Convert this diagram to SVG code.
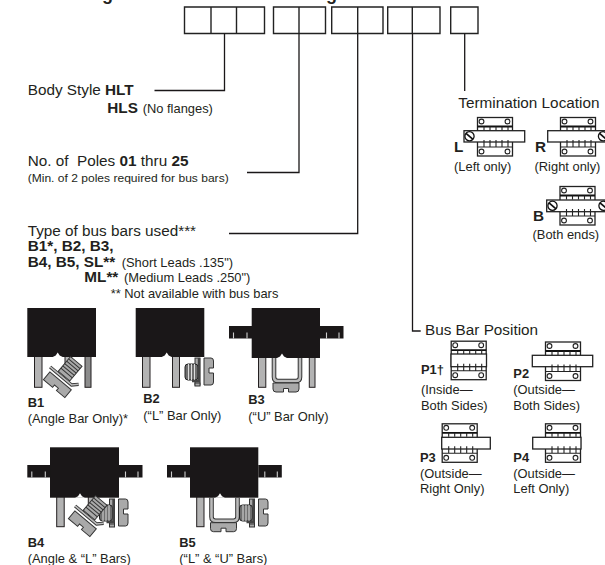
<svg xmlns="http://www.w3.org/2000/svg" width="605" height="565" viewBox="0 0 605 565">
<style>
text{font-family:"Liberation Sans",Arial,sans-serif;fill:#231f20}
.h{font-size:15.3px}.m{font-size:12.9px}.t{font-size:11.5px}
.b{font-weight:bold}
.box{fill:#fff;stroke:#222;stroke-width:1.4}
.c{fill:none;stroke:#1a1718;stroke-width:1.3}
.ln{fill:none;stroke:#222;stroke-width:1.1}
.bar{fill:#fff;stroke:#222;stroke-width:1.3}
.blk{fill:#1a1718}
.pin{fill:#b3b3b3;stroke:#231f20;stroke-width:1}
.pind{fill:#8c8c8c;stroke:#231f20;stroke-width:1}
.mid{fill:#a9a9a9;stroke:#333;stroke-width:1}
.dk{fill:#6e6e6e;stroke:#222;stroke-width:1}
</style>
<defs>
<g id="term">
<rect class="bar" x="0.5" y="0.5" width="35" height="38.5"/>
<circle class="ln" cx="4.5" cy="4.5" r="2.4"/><circle class="ln" cx="30.5" cy="4.5" r="2.4"/>
<circle class="ln" cx="4.5" cy="34.5" r="2.4"/><circle class="ln" cx="30.5" cy="34.5" r="2.4"/>
<path d="M0.5 9.5H35.5" stroke="#111" stroke-width="1.8" fill="none"/>
<path class="ln" d="M7 9.5V13.5M13 9.5V13.5M19 9.5V13.5M25 9.5V13.5M31 9.5V13.5"/>
</g>
<path id="ticks" d="M0.5 30H35.5M7 23V30M13 23V30M19 23V30M25 23V30M31 23V30" fill="none" stroke="#222" stroke-width="1.1"/>
<g id="screw"><circle r="4.6" fill="#fff" stroke="#111" stroke-width="1.3"/><path d="M-3.5 -3L3.5 3" stroke="#111" stroke-width="1.7"/></g>
<path id="notch" d="M-5 0L-2 -1.5L0 -4.5L2 -1.5L5 0Z" fill="#fff"/>
<g id="tabL"><rect class="blk" width="23" height="12.5"/><path d="M4.5 6.5V12.5M18 6.5V12.5" stroke="#ccc" stroke-width="1.1"/></g>
<g id="tabR"><rect class="blk" width="23.5" height="12.5"/><path d="M6.5 6.5V12.5M19 6.5V12.5" stroke="#ccc" stroke-width="1.1"/></g>
<g id="angle">
<path class="mid" d="M-14 -4H14V6H3V3H-2V6H-14Z"/>
<path d="M-17 -8H11L16 -13" fill="none" stroke="#333" stroke-width="3.4"/>
<path d="M-17 -8H11L16 -13" fill="none" stroke="#bbb" stroke-width="1.6"/>
<rect class="mid" x="-8" y="-29" width="15" height="19"/>
<path d="M-8 -26H7M-8 -23H7M-8 -20H7M-8 -17H7M-8 -14H7" stroke="#333" stroke-width="1"/>
</g>
<g id="lclip">
<rect x="10" y="0" width="5" height="27" class="mid"/>
<rect class="dk" x="0" y="6" width="13" height="16" rx="3"/>
<path d="M3.5 6V22M6.5 6V22M9.5 6V22" stroke="#ddd" stroke-width="1"/>
<path class="mid" d="M19 0H26Q28.5 0 28.5 3V10H24V15H28.5V24Q28.5 27 26 27H19Z"/>
<path d="M14 0V23H7" fill="none" stroke="#444" stroke-width="2.4"/>
<rect class="mid" x="10" y="25" width="5" height="3"/>
</g>
<g id="uclip">
<path d="M3 0V19Q3 23 7 23H25Q29 23 29 19V0" fill="none" stroke="#333" stroke-width="4.6"/>
<path d="M3 0V19Q3 23 7 23H25Q29 23 29 19V0" fill="none" stroke="#bbb" stroke-width="2.6"/>
<path class="mid" d="M2 25H28V31Q28 34 25 34H17.5V30.5H12.5V34H5Q2 34 2 31Z"/>
</g>
</defs>

<g id="heading-cut"><text class="b" x="102" y="-0.5" font-size="18">g</text><text class="b" x="326" y="-0.5" font-size="18">g</text></g>

<g id="code-boxes">
<path class="box" d="M184.500 7H264.500V33.500H184.500ZM211 7V33.500M236.500 7V33.500"/>
<path class="box" d="M273.500 7H325.500V33.500H273.500ZM299 7V33.500"/>
<path class="box" d="M331.700 7H383V33.500H331.700ZM357.700 7V33.500"/>
<path class="box" d="M387.700 7H440V33.500H387.700ZM412.300 7V33.500"/>
<path class="box" d="M450.700 7H478V33.500H450.700Z"/>
</g>

<g id="connectors">
<path class="c" d="M224.500 33.500V90.500H154.500"/>
<path class="c" d="M299 33.500V172.500H247"/>
<path class="c" d="M357.700 33.500V233.500H229"/>
<path class="c" d="M412.500 33.500V331H420.700"/>
<path class="c" d="M464.700 33.500V91"/>
</g>

<g id="body-style"><text class="h" x="27.7" y="95">Body Style <tspan class="b">HLT</tspan></text>
<text class="h b" x="107.3" y="112.7">HLS</text><text class="m" x="142.7" y="112.7">(No flanges)</text></g>

<g id="poles"><text class="h" x="27.7" y="166" xml:space="preserve">No. of  Poles <tspan class="b">01</tspan> thru <tspan class="b">25</tspan></text>
<text class="t" x="27.7" y="182" textLength="201" lengthAdjust="spacingAndGlyphs">(Min. of 2 poles required for bus bars)</text></g>

<g id="bus-types"><text class="h" x="27.7" y="235.7">Type of bus bars used***</text>
<text class="h b" x="27.7" y="251">B1*, B2, B3,</text>
<text class="h b" x="27.7" y="266.7">B4, B5, SL**</text>
<text class="m" x="121.7" y="266.7">(Short Leads .135")</text>
<text class="h b" x="84.3" y="281.7">ML**</text>
<text class="m" x="124" y="281.7">(Medium Leads .250")</text>
<text class="m" x="110.7" y="298.3">** Not available with bus bars</text></g>

<g id="termination"><text class="h" x="458.3" y="108">Termination Location</text></g>
<g id="term-L"><use href="#term" x="477" y="117"/><rect class="bar" x="464" y="130.7" width="60.7" height="11.3"/><use href="#ticks" x="477" y="117"/><use href="#screw" x="469.5" y="136.3"/>
<text class="h b" x="454" y="151.7">L</text><text class="m" x="454" y="170.7">(Left only)</text></g>
<g id="term-R"><use href="#term" x="560" y="117"/><rect class="bar" x="547.7" y="130.7" width="60" height="11.3"/><use href="#ticks" x="560" y="117"/><use href="#screw" x="603" y="136.3"/>
<text class="h b" x="535" y="151.7">R</text><text class="m" x="534.5" y="170.7">(Right only)</text></g>
<g id="term-B"><use href="#term" x="559.5" y="186"/><rect class="bar" x="546.7" y="200" width="61" height="11.7"/><use href="#ticks" x="559.5" y="186"/><use href="#screw" x="552.5" y="205.8"/><use href="#screw" x="603.5" y="205.8"/>
<text class="h b" x="533" y="220.7">B</text><text class="m" x="532.5" y="239">(Both ends)</text></g>

<g id="position"><text class="h" x="425" y="335.3">Bus Bar Position</text></g>
<g id="P1"><use href="#term" x="450.7" y="340.7"/><rect class="bar" x="451" y="354" width="35.5" height="12.7"/><use href="#ticks" x="450.7" y="340.7"/>
<text class="m b" x="421" y="374">P1†</text><text class="m" x="421" y="394">(Inside—</text><text class="m" x="421" y="409.5">Both Sides)</text></g>
<g id="P2"><use href="#term" x="545" y="341.5"/><rect class="bar" x="532.3" y="355.3" width="60.4" height="11.4"/><use href="#ticks" x="545" y="341.5"/>
<text class="m b" x="513.3" y="378.3">P2</text><text class="m" x="513.3" y="394">(Outside—</text><text class="m" x="513.3" y="409.5">Both Sides)</text></g>
<g id="P3"><use href="#term" x="441.7" y="423.3"/><rect class="bar" x="441.7" y="437.3" width="48.6" height="11.7"/><use href="#ticks" x="441.7" y="423.3"/>
<text class="m b" x="420" y="461.7">P3</text><text class="m" x="420" y="478.3">(Outside—</text><text class="m" x="420" y="493.3">Right Only)</text></g>
<g id="P4"><use href="#term" x="545" y="423.3"/><rect class="bar" x="532.7" y="437.3" width="48.3" height="11.7"/><use href="#ticks" x="545" y="423.3"/>
<text class="m b" x="513.3" y="461.7">P4</text><text class="m" x="513.3" y="478.3">(Outside—</text><text class="m" x="513.3" y="493.3">Left Only)</text></g>

<g id="B1">
<rect class="pin" x="34.5" y="355" width="7.5" height="32.3"/><rect class="pin" x="65" y="355" width="6.7" height="20"/><rect class="pind" x="85" y="355" width="6" height="32.3"/>
<rect class="blk" x="27.3" y="308" width="68.7" height="49"/><use href="#notch" x="57.7" y="357"/>
<use href="#angle" transform="translate(58 384) rotate(40)"/>
<text class="m b" x="27.7" y="406.7">B1</text><text class="m" x="27.7" y="422.7">(Angle Bar Only)*</text></g>

<g id="B2">
<rect class="pin" x="142.5" y="355" width="7.5" height="32.3"/><rect class="pin" x="172.5" y="355" width="7" height="32.3"/>
<use href="#lclip" x="185" y="358"/>
<rect class="blk" x="135.7" y="308" width="68.6" height="49"/><use href="#notch" x="166.7" y="357"/>
<text class="m b" x="143.3" y="403.3">B2</text><text class="m" x="143.3" y="420">(“L” Bar Only)</text></g>

<g id="B3">
<rect class="pin" x="258.5" y="355" width="7.3" height="32.3"/><rect class="pin" x="309.3" y="355" width="5.7" height="32.3"/>
<use href="#uclip" x="271" y="358"/>
<rect class="blk" x="251.7" y="308" width="68.3" height="50"/><use href="#notch" x="282" y="358"/>
<use href="#tabL" x="229" y="326"/><use href="#tabR" x="320" y="326"/>
<text class="m b" x="248.3" y="404">B3</text><text class="m" x="248.3" y="420.7">(“U” Bar Only)</text></g>

<g id="B4">
<rect class="pin" x="56.7" y="495" width="7.5" height="31.7"/><rect class="pin" x="88.3" y="495" width="7.3" height="20"/>
<use href="#lclip" x="99.5" y="499"/>
<rect class="blk" x="50" y="447.3" width="69" height="50.4"/><use href="#notch" x="80" y="497.7"/>
<use href="#tabL" x="27.3" y="465"/><use href="#tabR" x="119" y="465"/>
<use href="#angle" transform="translate(83 523) rotate(40)"/>
<text class="m b" x="27.7" y="547.3">B4</text><text class="m" x="27.7" y="562.7">(Angle &amp; “L” Bars)</text></g>

<g id="B5">
<rect class="pin" x="196.7" y="495" width="7.3" height="31.7"/>
<use href="#uclip" x="208.5" y="497.7"/><use href="#lclip" x="239.5" y="499"/>
<rect class="blk" x="190" y="447.3" width="68.3" height="50.4"/><use href="#notch" x="220" y="497.7"/>
<use href="#tabL" x="167" y="465"/><use href="#tabR" x="258.3" y="465"/>
<text class="m b" x="179.3" y="547.3">B5</text><text class="m" x="179.3" y="562.7">(“L” &amp; “U” Bars)</text></g>
</svg>
